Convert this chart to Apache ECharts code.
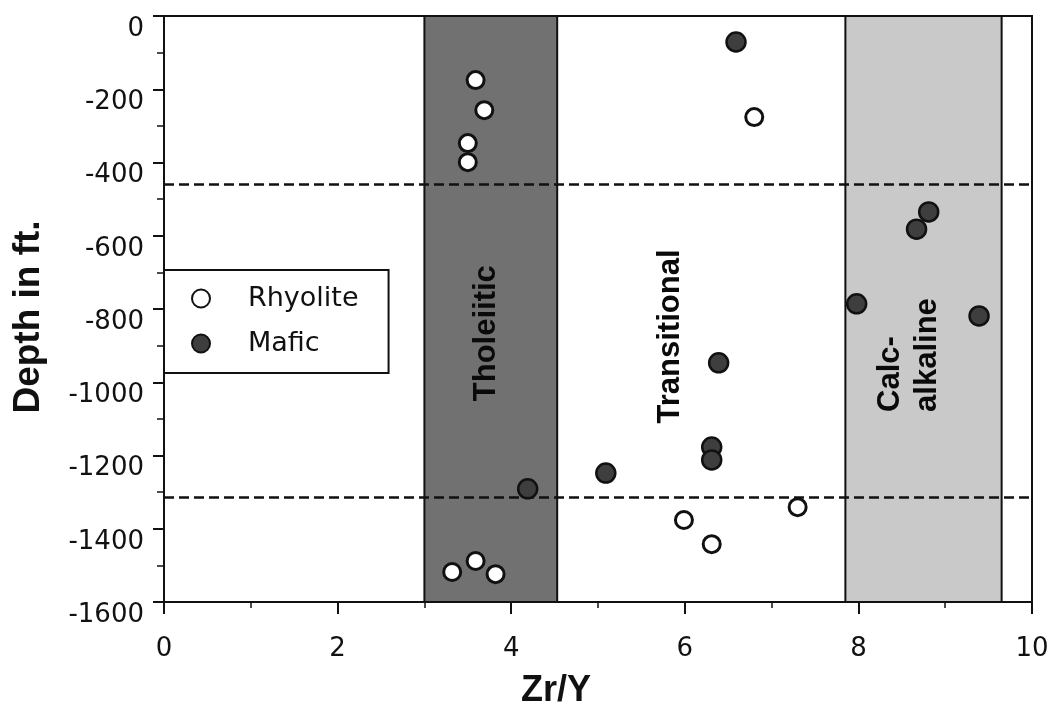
<!DOCTYPE html>
<html>
<head>
<meta charset="utf-8">
<script src="https://cdn.jsdelivr.net/npm/echarts@6/dist/echarts.min.js"></script>
<style>
html,body{margin:0;padding:0;background:#fff;}
#chart{width:1052px;height:706px;}
</style>
</head>
<body>
<div id="chart"></div>
<script>
// ---- data ----
var xTicks = [0, 2, 4, 6, 8, 10];
var yTicks = [-1600, -1400, -1200, -1000, -800, -600, -400, -200, 0];

var rhyoliteX = [3.59, 3.69, 3.50, 3.50, 6.80, 3.32, 3.59, 3.82, 5.99, 6.31, 7.30];
var rhyoliteY = [-175, -257, -347, -399, -276, -1518, -1488, -1524, -1376, -1442, -1341];

var maficX = [6.59, 8.81, 8.67, 7.98, 9.39, 6.39, 6.31, 6.31, 5.09, 4.19];
var maficY = [-71, -535, -582, -786, -819, -947, -1177, -1212, -1248, -1291];

var tholeiiticBand = [3.0, 4.53];
var calcAlkalineBand = [7.85, 9.65];
var dashedDepths = [-460, -1313];

var zoneNames = ['Tholeiitic', 'Transitional', 'Calc-\nalkaline'];
var zoneLabelX = [3.72, 5.83, 8.58];
var zoneLabelY = [-866, -875, -1081];

// ---- build ----
function zip(xs, ys) { return xs.map(function (x, i) { return [x, ys[i]]; }); }

var chart = echarts.init(document.getElementById('chart'), null, {renderer: 'canvas'});

var tickFont = {fontFamily: 'DejaVu Sans', fontSize: 26, color: '#111'};

var zoneData = zoneNames.map(function (n, i) {
  var item = {name: n, value: [zoneLabelX[i], zoneLabelY[i]]};
  if (i === 2) {
    item.label = {align: 'left', verticalAlign: 'middle', lineHeight: 37};
  }
  return item;
});

var option = {
  animation: false,
  backgroundColor: '#fff',
  grid: {left: 164, right: 20, top: 16, bottom: 104, containLabel: false, outerBoundsMode: 'none',
         show: true, borderColor: '#111', borderWidth: 2, backgroundColor: 'transparent'},
  legend: {
    data: ['Rhyolite', 'Mafic'],
    orient: 'vertical',
    left: 164, top: 270,
    padding: [15, 30, 16, 27],
    itemGap: 18,
    itemWidth: 18, itemHeight: 18,
    borderColor: '#111', borderWidth: 2,
    backgroundColor: '#fff',
    textStyle: {fontFamily: 'DejaVu Sans', fontSize: 27, color: '#111', padding: [0, 0, 0, 33]},
    z: 10
  },
  xAxis: {
    type: 'value',
    min: xTicks[0], max: xTicks[xTicks.length - 1], interval: xTicks[1] - xTicks[0],
    name: 'Zr/Y', nameLocation: 'middle', nameGap: 71,
    nameTextStyle: {fontFamily: 'Liberation Sans', fontWeight: 'bold', fontSize: 36, color: '#111', padding: [0, 84, 0, 0]},
    axisLine: {show: true, onZero: false, lineStyle: {color: '#111', width: 2}},
    axisTick: {show: true, inside: false, length: 12, lineStyle: {color: '#111', width: 2}},
    minorTick: {show: true, splitNumber: 2, length: 6, lineStyle: {color: '#111', width: 1.5}},
    axisLabel: Object.assign({margin: 34, formatter: function (v) { return String(v); }}, tickFont),
    splitLine: {show: false}
  },
  yAxis: {
    type: 'value',
    min: yTicks[0], max: yTicks[yTicks.length - 1], interval: yTicks[1] - yTicks[0],
    name: 'Depth in ft.', nameLocation: 'middle', nameGap: 117, nameRotate: 90,
    nameTextStyle: {fontFamily: 'Liberation Sans', fontWeight: 'bold', fontSize: 37, color: '#111', padding: [0, 16, 0, 0]},
    axisLine: {show: true, onZero: false, lineStyle: {color: '#111', width: 2}},
    axisTick: {show: true, inside: false, length: 11, lineStyle: {color: '#111', width: 2}},
    minorTick: {show: true, splitNumber: 2, length: 7, lineStyle: {color: '#111', width: 1.5}},
    axisLabel: Object.assign({margin: 20, verticalAlign: 'top', formatter: function (v) { return String(v); }}, tickFont),
    splitLine: {show: false}
  },
  series: [
    {
      name: 'bands', type: 'line', data: [], z: 1, silent: true,
      markArea: {
        silent: true,
        data: [
          [{xAxis: tholeiiticBand[0], itemStyle: {color: '#717171', borderColor: '#111', borderWidth: 2}}, {xAxis: tholeiiticBand[1]}],
          [{xAxis: calcAlkalineBand[0], itemStyle: {color: '#c9c9c9', borderColor: '#111', borderWidth: 2}}, {xAxis: calcAlkalineBand[1]}]
        ]
      }
    },
    {
      name: 'limits', type: 'line', data: [], z: 2, silent: true,
      markLine: {
        silent: true, symbol: ['none', 'none'], label: {show: false},
        lineStyle: {color: '#111', width: 2.5, type: [10, 5]},
        data: dashedDepths.map(function (d) { return {yAxis: d}; })
      }
    },
    {
      name: 'zones', type: 'scatter', z: 3, silent: true,
      symbolSize: 0,
      itemStyle: {opacity: 1},
      data: zoneData,
      label: {
        show: true, position: 'inside', rotate: 90,
        formatter: function (p) { return p.name; },
        fontFamily: 'Liberation Sans', fontWeight: 'bold', fontSize: 31, color: '#0a0a0a', opacity: 1
      }
    },
    {
      name: 'Rhyolite', type: 'scatter', z: 5,
      symbol: 'circle', symbolSize: 17,
      itemStyle: {color: '#fff', borderColor: '#111', borderWidth: 3, opacity: 1},
      data: zip(rhyoliteX, rhyoliteY)
    },
    {
      name: 'Mafic', type: 'scatter', z: 5,
      symbol: 'circle', symbolSize: 19,
      itemStyle: {color: '#3e3e3e', borderColor: '#111', borderWidth: 2.5, opacity: 1},
      data: zip(maficX, maficY)
    }
  ]
};
chart.setOption(option);
</script>
</body>
</html>
